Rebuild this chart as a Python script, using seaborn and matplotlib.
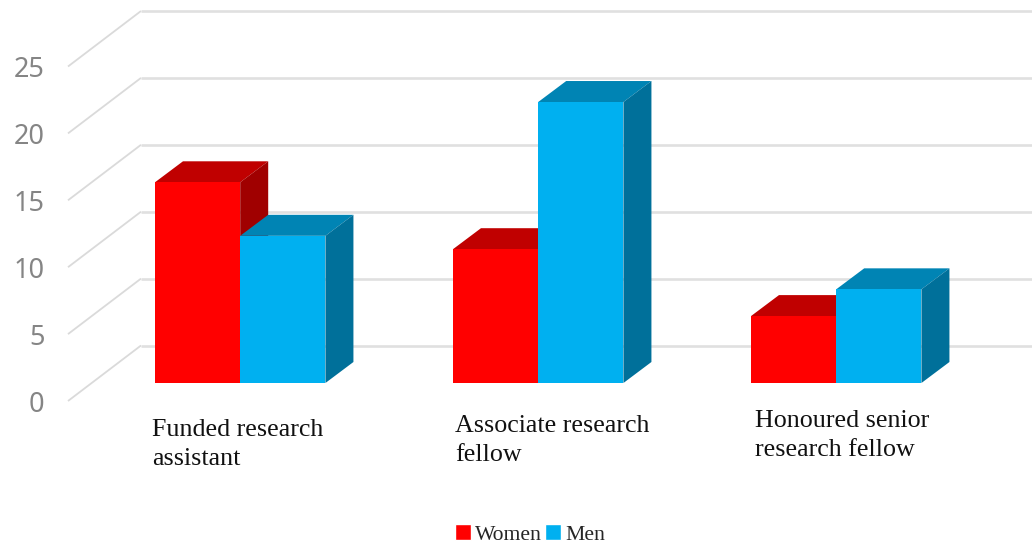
import matplotlib
matplotlib.use("Agg")
import matplotlib.pyplot as plt
from matplotlib.patches import Polygon
from matplotlib.transforms import Affine2D, IdentityTransform
import pandas as pd
import seaborn as sns

categories = ["Funded research\nassistant", "Associate research\nfellow", "Honoured senior\nresearch fellow"]
women = [15, 10, 5]
men = [11, 21, 7]
y_ticks = [0, 5, 10, 15, 20, 25]
series_names = ["Women", "Men"]

W, H = 1032, 550
front = {"Women": "#FF0000", "Men": "#00B0F0"}
top = {"Women": "#C00000", "Men": "#0084B4"}
side = {"Women": "#A00000", "Men": "#00709A"}
DX, DY = 28, 21          # bar depth in pixels
BACK = 37.5              # rise of the back wall over the bar base
WALL_L, WALL_R, WALL_DROP = 68, 141, 18

df = pd.DataFrame({
    "category": categories * 2,
    "value": women + men,
    "series": ["Women"] * 3 + ["Men"] * 3,
})

sns.set_theme(style="white")
plt.rcParams["font.family"] = ["Liberation Serif", "DejaVu Sans"]
fig = plt.figure(figsize=(W / 100, H / 100), dpi=100)
ax = fig.add_axes([91.2 / W, (H - 383) / H, 894 / W, 334.5 / H])
ax.patch.set_alpha(0)

sns.barplot(data=df, x="category", y="value", hue="series", hue_order=series_names,
            palette=front, width=0.572, gap=0, saturation=1, ax=ax, zorder=3)
ax.set_xlim(-0.5, 2.5)
ax.set_ylim(0, 25)
ax.set_xlabel("")
ax.set_ylabel("")
for s in ax.spines.values():
    s.set_visible(False)

ident = IdentityTransform()

# back wall gridlines and left wall diagonals
for v in y_ticks:
    y = ax.transData.transform((0, v))[1]
    ax.plot([WALL_L, WALL_R], [y - WALL_DROP, y + BACK], transform=ident,
            color="#DADADA", lw=1.3, clip_on=False, zorder=1, solid_capstyle="butt")
    ax.plot([WALL_R, W], [y + BACK, y + BACK], transform=ident,
            color="#E0E0E0", lw=1.9, clip_on=False, zorder=1, solid_capstyle="butt")

# depth faces, built from the bars that seaborn drew
for i, (name, cont) in enumerate(zip(series_names, ax.containers)):
    z = 3 + i * 0.2
    for bar in cont:
        bar.set_zorder(z + 0.1)
        bar.set_linewidth(0)
        (x0, y0) = ax.transData.transform((bar.get_x(), 0))
        (x1, y1) = ax.transData.transform((bar.get_x() + bar.get_width(), bar.get_height()))
        ax.add_patch(Polygon([(x0, y1), (x1, y1), (x1 + DX, y1 + DY), (x0 + DX, y1 + DY)],
                             closed=True, transform=ident, fc=top[name], ec="none",
                             clip_on=False, zorder=z))
        ax.add_patch(Polygon([(x1, y0), (x1 + DX, y0 + DY), (x1 + DX, y1 + DY), (x1, y1)],
                             closed=True, transform=ident, fc=side[name], ec="none",
                             clip_on=False, zorder=z))

# value axis labels sit on the front ends of the wall diagonals
ax.set_yticks(y_ticks)
ax.tick_params(axis="y", length=0, pad=33.5)
for lab in ax.get_yticklabels():
    lab.set_fontfamily("Noto Sans")
    lab.set_fontsize(19.5)
    lab.set_color("#858585")
    lab.set_transform(lab.get_transform() + Affine2D().translate(0, -WALL_DROP))

# category labels
ax.set_xticks(range(3))
ax.set_xticklabels(categories)
ax.tick_params(axis="x", length=0, pad=0)
label_shift = [(-88.2, -36), (-83.2, -32), (-81.2, -27)]
for lab, (sx, sy) in zip(ax.get_xticklabels(), label_shift):
    lab.set_ha("left")
    lab.set_multialignment("left")
    lab.set_va("top")
    lab.set_fontsize(18.7)
    lab.set_color("#111111")
    lab.set_linespacing(1.42)
    lab.set_transform(lab.get_transform() + Affine2D().translate(sx, sy))

sns.move_legend(ax, "center", bbox_to_anchor=(530 / W, (H - 534.5) / H),
                bbox_transform=fig.transFigure, ncols=2, frameon=False, title=None,
                fontsize=15.6, handlelength=0.72, handleheight=0.72, handletextpad=0.2,
                columnspacing=0.15, borderpad=0, borderaxespad=0)

fig.savefig("out.png", dpi=100, facecolor="white")
